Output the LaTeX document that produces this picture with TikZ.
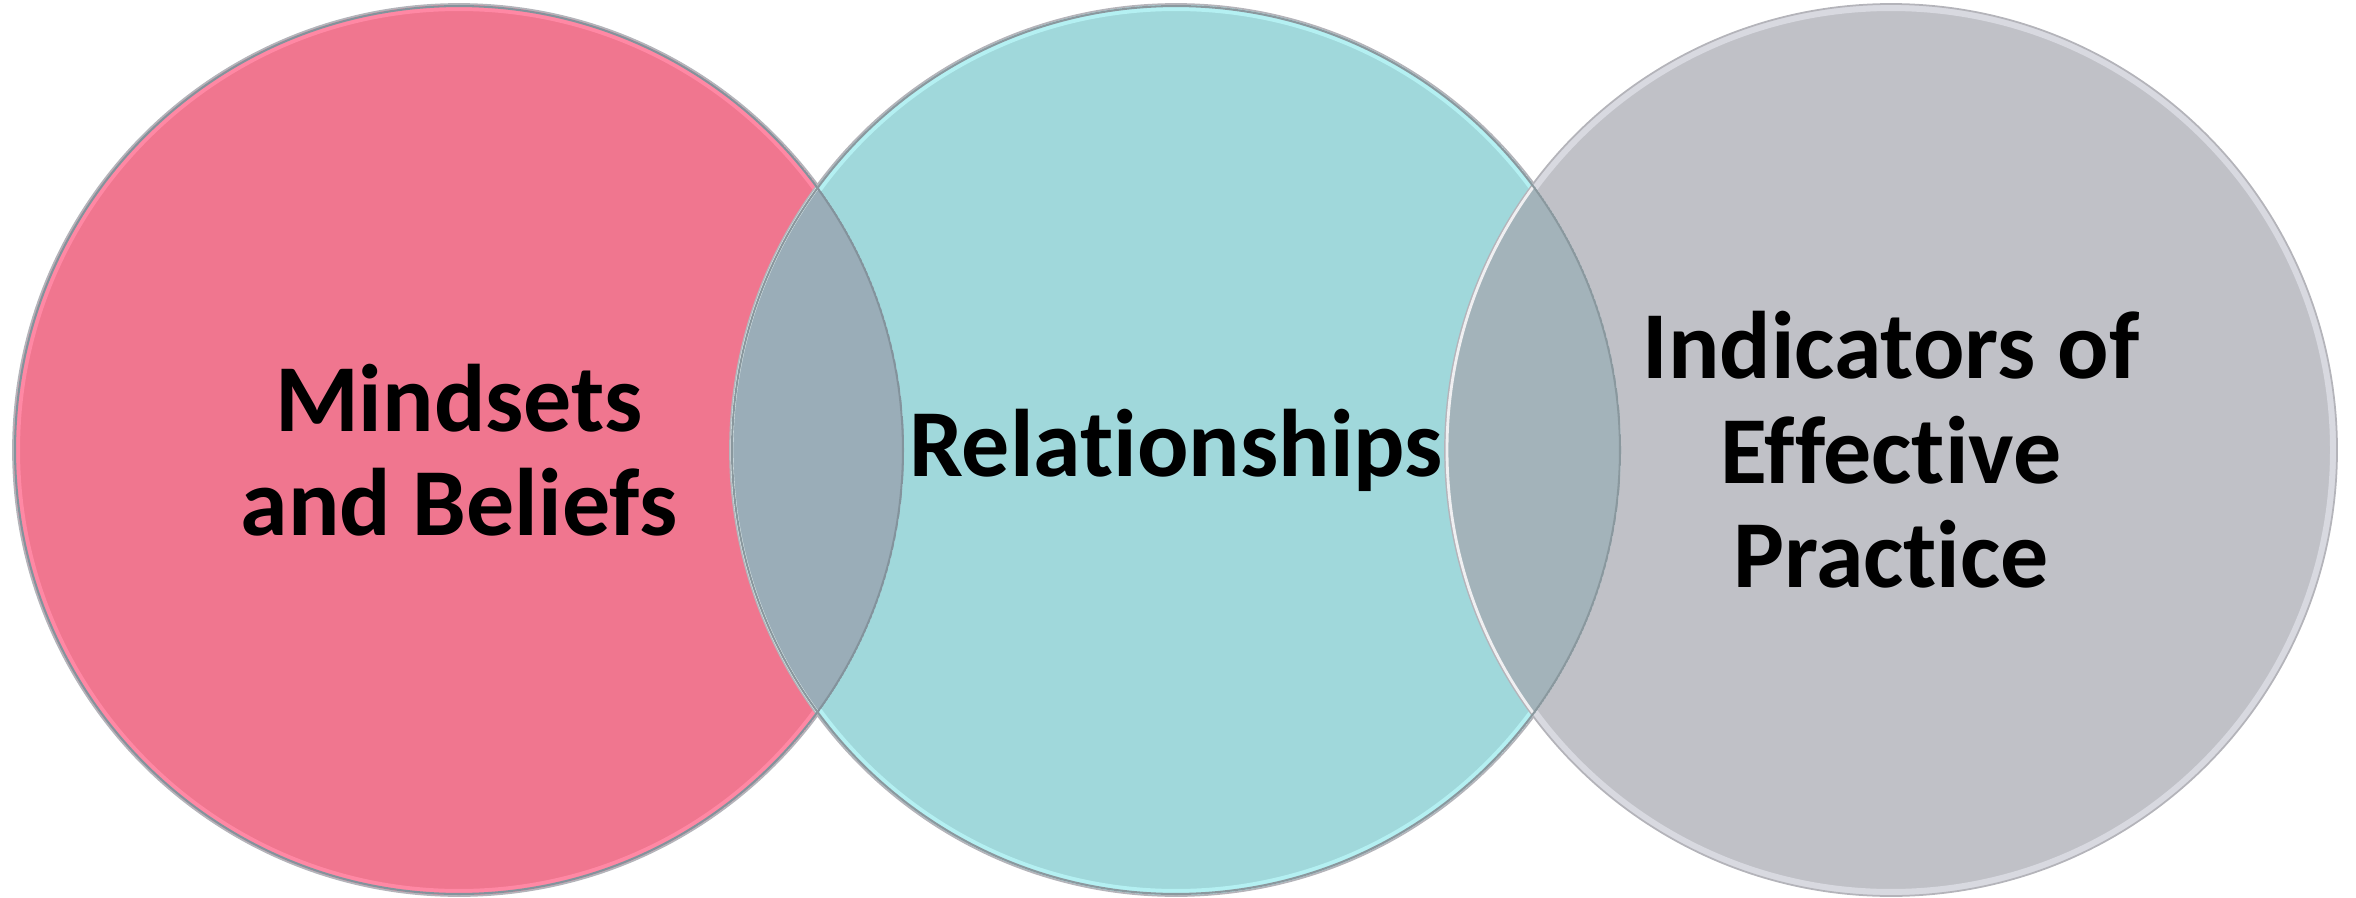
\documentclass[tikz,border=0pt]{standalone}
\usepackage{fontspec}
\setsansfont{Carlito}[Ligatures=NoCommon]
\usepackage{tikz}
\usepackage{xcolor}

\definecolor{pinkfill}{HTML}{F0768F}
\definecolor{pinkrim}{HTML}{FF88A4}
\definecolor{tealfill}{HTML}{A0D8DB}
\definecolor{tealrim}{HTML}{B4F0F2}
\definecolor{grayfill}{HTML}{C0C1C7}
\definecolor{grayrim}{HTML}{D8D9E0}
\definecolor{pinkteal}{HTML}{9AADB8}
\definecolor{tealgray}{HTML}{A3B3BA}
\definecolor{edgeline}{HTML}{B4B4BA}

\begin{document}
\begin{tikzpicture}[ring/.style={circle, minimum size=8.92cm, inner sep=0pt},
  label/.style={font=\sffamily\bfseries\fontsize{27.3}{29.7}\selectfont, align=center, text=black}]
\useasboundingbox (0,0) rectangle (23.56,8.97);
\node[ring, fill=pinkfill] (mind) at (4.59,4.47) {};
\draw[pinkrim, line width=2pt] (mind.center) circle (4.425);
\draw[edgeline, line width=0.5pt] (mind.center) circle (4.46);
\node[ring, fill=tealfill] (rel) at (11.76,4.47) {};
\draw[tealrim, line width=2pt] (rel.center) circle (4.425);
\draw[edgeline, line width=0.5pt] (rel.center) circle (4.46);
\node[ring, fill=grayfill] (ind) at (18.91,4.47) {};
\draw[grayrim, line width=2pt] (ind.center) circle (4.425);
\draw[edgeline, line width=0.5pt] (ind.center) circle (4.46);

% overlaps
\begin{scope}
\clip (mind.center) circle (4.45);
\fill[pinkteal] (rel.center) circle (4.45);
\draw[white!75!tealfill, line width=0.8pt] (rel.center) circle (4.44);
\draw[pinkteal!85!black, line width=0.6pt] (mind.center) circle (4.44);
\end{scope}
\begin{scope}
\clip (rel.center) circle (4.45);
\fill[tealgray] (ind.center) circle (4.45);
\draw[white!75!grayfill, line width=0.8pt] (ind.center) circle (4.44);
\draw[tealgray!85!black, line width=0.6pt] (rel.center) circle (4.44);
\end{scope}

\node[label] (mindtext) at (mind.center) {Mindsets\\and Beliefs};
\node[label] (reltext) at (rel.center) {Relationships};
\node[label] (indtext) at (ind.center) {Indicators of\\Effective\\Practice};
\end{tikzpicture}
\end{document}
